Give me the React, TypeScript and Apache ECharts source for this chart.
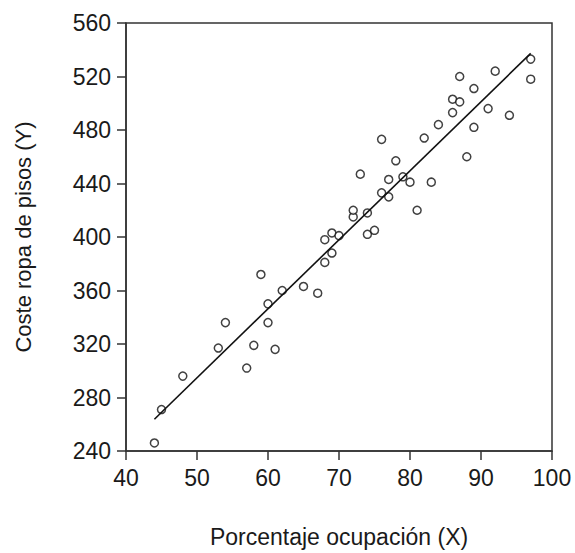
import React, { useEffect, useRef } from "react";
import * as echarts from "echarts";

const occupancy: number[] = [
  44, 45, 48, 53, 54, 57, 58, 59, 60, 60, 61, 62, 65, 67, 68, 68, 69, 69, 70, 72,
  72, 73, 74, 74, 75, 76, 76, 77, 77, 78, 79, 80, 81, 82, 83, 84, 86, 86, 87, 87,
  88, 89, 89, 91, 92, 94, 97, 97,
];
const cost: number[] = [
  246, 271, 296, 317, 336, 302, 319, 372, 350, 336, 316, 360, 363, 358, 381, 398, 388, 403, 401, 415,
  420, 447, 418, 402, 405, 473, 433, 430, 443, 457, 445, 441, 420, 474, 441, 484, 503, 493, 520, 501,
  460, 511, 482, 496, 524, 491, 533, 518,
];
const xTicks = { min: 40, max: 100, interval: 10 };
const yTicks = { min: 240, max: 560, interval: 40 };
const xTitle = "Porcentaje ocupación (X)";
const yTitle = "Coste ropa de pisos (Y)";

function fit(xs: number[], ys: number[]) {
  const n = xs.length;
  const mx = xs.reduce((a, b) => a + b, 0) / n;
  const my = ys.reduce((a, b) => a + b, 0) / n;
  let sxy = 0, sxx = 0;
  for (let i = 0; i < n; i++) {
    sxy += (xs[i] - mx) * (ys[i] - my);
    sxx += (xs[i] - mx) * (xs[i] - mx);
  }
  const b = sxy / sxx;
  return { a: my - b * mx, b };
}

export default function App() {
  const ref = useRef<HTMLDivElement>(null);
  useEffect(() => {
    if (!ref.current) return;
    const chart = echarts.init(ref.current, null, { renderer: "svg" });
    const { a, b } = fit(occupancy, cost);
    const xMin = Math.min(...occupancy);
    const xMax = Math.max(...occupancy);
    const font = "Liberation Sans, Arial, sans-serif";
    chart.setOption({
      animation: false,
      backgroundColor: "#ffffff",
      grid: {
        left: 126, right: 23, top: 23, bottom: 100,
        show: true, borderColor: "#333", borderWidth: 1.5, backgroundColor: "transparent",
      },
      xAxis: {
        type: "value", min: xTicks.min, max: xTicks.max, interval: xTicks.interval,
        name: xTitle, nameLocation: "middle", nameGap: 74,
        nameTextStyle: { fontFamily: font, fontSize: 23, color: "#1a1a1a" },
        axisLine: { show: true, lineStyle: { color: "#333", width: 1.5 } },
        axisTick: { show: true, length: 9, lineStyle: { color: "#333", width: 1.5 } },
        axisLabel: { fontFamily: font, fontSize: 23, color: "#1a1a1a", margin: 15 },
        splitLine: { show: false },
      },
      yAxis: {
        type: "value", min: yTicks.min, max: yTicks.max, interval: yTicks.interval,
        name: yTitle, nameLocation: "middle", nameGap: 92,
        nameTextStyle: { fontFamily: font, fontSize: 22, color: "#1a1a1a" },
        axisLine: { show: true, lineStyle: { color: "#333", width: 1.5 } },
        axisTick: { show: true, length: 9, lineStyle: { color: "#333", width: 1.5 } },
        axisLabel: { fontFamily: font, fontSize: 23, color: "#1a1a1a", margin: 15 },
        splitLine: { show: false },
      },
      series: [
        {
          type: "scatter",
          data: occupancy.map((x, i) => [x, cost[i]]),
          symbol: "circle", symbolSize: 8,
          itemStyle: { color: "#fff", borderColor: "#111", borderWidth: 1.5 },
        },
        {
          type: "line",
          data: [[xMin, a + b * xMin], [xMax, a + b * xMax]],
          symbol: "none",
          lineStyle: { color: "#111", width: 1.6 },
        },
      ],
    });
    return () => chart.dispose();
  }, []);
  return <div ref={ref} style={{ width: 575, height: 553, position: "absolute", left: 0, top: 0 }} />;
}
